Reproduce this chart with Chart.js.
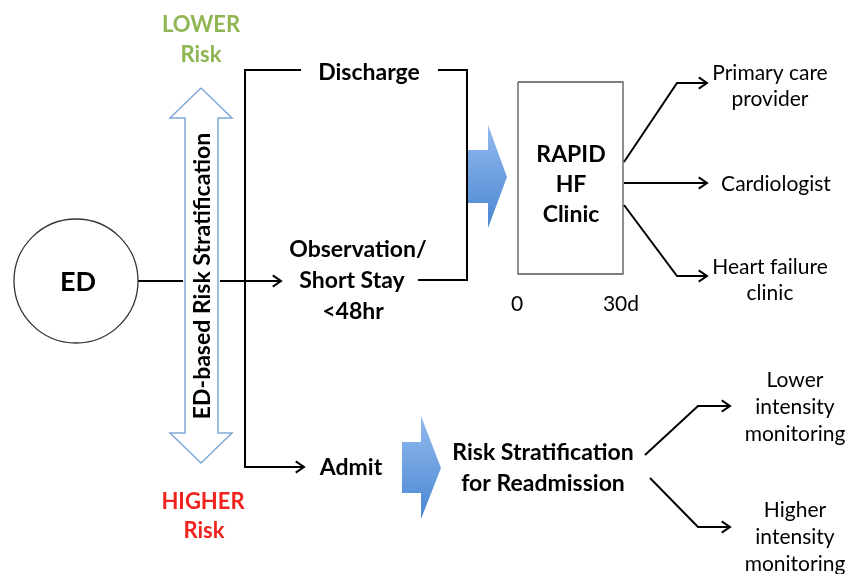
<!DOCTYPE html>
<html>
<head>
<meta charset="utf-8">
<style>html,body{margin:0;padding:0;background:#fff}</style>
<script src="https://cdn.jsdelivr.net/npm/chart.js@4.4.0/dist/chart.umd.min.js"></script>
</head>
<body>
<canvas id="flow" width="859" height="574"></canvas>
<script>
// diagram positions, in picture units (x right, y down)
var edNode = [{x: 76, y: 281, r: 62}];

var edLineIn = [[138, 281], [183, 281]];
var edLineOut = [[220, 281], [281, 281]];
var trunk = [[301, 70], [245, 70], [245, 467], [304, 467]];
var dischargeOut = [[438, 70], [467, 70], [467, 280], [418, 280]];
var clinicBox = [[518, 82], [623, 82], [623, 274], [518, 274], [518, 82]];
var toPrimary = [[624, 162], [677, 83], [707, 83]];
var toCardio = [[624, 183], [707, 183]];
var toHFclinic = [[624, 205], [677, 276], [707, 276]];
var toLower = [[645, 455], [698, 406], [730, 406]];
var toHigher = [[650, 478], [698, 527], [730, 527]];

var riskArrow = [[201, 88], [232, 118], [218, 118], [218, 433], [232, 433], [201, 463],
  [170, 433], [185, 433], [185, 118], [170, 118], [201, 88]];
var blockArrow1 = [[466, 150], [488, 150], [488, 125], [507, 177], [488, 228], [488, 203], [466, 203], [466, 150]];
var blockArrow2 = [[402, 442], [421, 442], [421, 416], [441, 468], [421, 519], [421, 493], [402, 493], [402, 442]];

var boldLabels = [
  ['ED', 78, 282, 27],
  ['Discharge', 369, 73, 23],
  ['Observation/', 358, 250, 23],
  ['Short Stay', 352, 281, 23],
  ['<48hr', 353, 312, 23],
  ['Admit', 351, 468, 23],
  ['RAPID', 571, 155, 23],
  ['HF', 571, 185, 23],
  ['Clinic', 571, 215, 23],
  ['Risk Stratification', 543, 453, 23],
  ['for Readmission', 543, 484, 23]
];
var plainLabels = [
  ['0', 517, 304],
  ['30d', 621, 304],
  ['Primary care', 770, 73],
  ['provider', 770, 99],
  ['Cardiologist', 776, 184],
  ['Heart failure', 770, 267],
  ['clinic', 770, 293],
  ['Lower', 795, 380],
  ['intensity', 795, 407],
  ['monitoring', 795, 434],
  ['Higher', 795, 510],
  ['intensity', 795, 537],
  ['monitoring', 795, 564]
];
var riskLabels = [
  ['LOWER', 201, 25, '#8fb653'],
  ['Risk', 201, 55, '#8fb653'],
  ['HIGHER', 203, 502, '#f0231e'],
  ['Risk', 204, 531, '#f0231e']
];
var sideLabel = ['ED-based Risk Stratification', 203, 276];

var FONT = 'Lato, "Open Sans", sans-serif';

function toXY(pts) {
  return pts.map(function (p) { return {x: p[0], y: p[1]}; });
}

function connector(pts, arrow) {
  return {
    data: toXY(pts), borderColor: '#000', borderWidth: 2, pointRadius: 0,
    tension: 0, fill: false, clip: false, arrow: arrow, order: 1
  };
}

function blueFill(pts) {
  var ys = pts.map(function (p) { return p[1]; });
  var top = Math.min.apply(null, ys), bot = Math.max.apply(null, ys);
  return function (ctx) {
    var c = ctx.chart;
    if (!c.chartArea) return '#5b93d9';
    var y0 = c.scales.y.getPixelForValue(top), y1 = c.scales.y.getPixelForValue(bot);
    var g = c.ctx.createLinearGradient(0, y0, 0, y1);
    g.addColorStop(0, '#93bbee');
    g.addColorStop(1, '#4a86d2');
    return g;
  };
}

function block(pts) {
  return {
    data: toXY(pts), borderColor: 'rgba(0,0,0,0)', borderWidth: 1, pointRadius: 0,
    tension: 0, fill: 'shape', backgroundColor: blueFill(pts), clip: false, order: 3
  };
}

var arrowHeads = {
  id: 'arrowHeads',
  afterDatasetsDraw: function (chart) {
    var ctx = chart.ctx;
    chart.data.datasets.forEach(function (ds, i) {
      if (!ds.arrow) return;
      var pts = chart.getDatasetMeta(i).data;
      var a = pts[pts.length - 2], b = pts[pts.length - 1];
      var ang = Math.atan2(b.y - a.y, b.x - a.x);
      ctx.save();
      ctx.strokeStyle = '#000';
      ctx.lineWidth = 2;
      ctx.lineJoin = 'miter';
      ctx.beginPath();
      ctx.moveTo(b.x - 10 * Math.cos(ang - 0.6), b.y - 10 * Math.sin(ang - 0.6));
      ctx.lineTo(b.x, b.y);
      ctx.lineTo(b.x - 10 * Math.cos(ang + 0.6), b.y - 10 * Math.sin(ang + 0.6));
      ctx.stroke();
      ctx.restore();
    });
  }
};

var textLabels = {
  id: 'textLabels',
  afterDraw: function (chart) {
    var ctx = chart.ctx, sx = chart.scales.x, sy = chart.scales.y;
    function put(t, x, y, font, color, rot) {
      ctx.save();
      ctx.font = font;
      ctx.fillStyle = color;
      ctx.textAlign = 'center';
      ctx.textBaseline = 'middle';
      ctx.translate(sx.getPixelForValue(x), sy.getPixelForValue(y));
      if (rot) ctx.rotate(rot);
      ctx.fillText(t, 0, 0);
      ctx.restore();
    }
    boldLabels.forEach(function (l) { put(l[0], l[1], l[2], 'bold ' + l[3] + 'px ' + FONT, '#000'); });
    plainLabels.forEach(function (l) { put(l[0], l[1], l[2], '21px ' + FONT, '#000'); });
    riskLabels.forEach(function (l) { put(l[0], l[1], l[2], 'bold 22px ' + FONT, l[3]); });
    put(sideLabel[0], sideLabel[1], sideLabel[2], 'bold 23px ' + FONT, '#000', -Math.PI / 2);
  }
};

var datasets = [
  {type: 'bubble', data: edNode, backgroundColor: '#fff', borderColor: '#333', borderWidth: 1.3, clip: false, order: 0},
  connector(edLineIn, false),
  connector(edLineOut, true),
  connector(trunk, true),
  connector(dischargeOut, false),
  connector(toPrimary, true),
  connector(toCardio, true),
  connector(toHFclinic, true),
  connector(toLower, true),
  connector(toHigher, true),
  {data: toXY(clinicBox), borderColor: '#555', borderWidth: 1.3, pointRadius: 0, tension: 0, fill: false, clip: false, order: 2},
  {data: toXY(riskArrow), borderColor: '#7fa8d8', borderWidth: 1.5, pointRadius: 0, tension: 0, fill: 'shape', backgroundColor: '#fff', clip: false, order: 2},
  block(blockArrow1),
  block(blockArrow2)
];

new Chart(document.getElementById('flow'), {
  type: 'line',
  data: {datasets: datasets},
  options: {
    responsive: false,
    animation: false,
    layout: {padding: 0, autoPadding: false},
    plugins: {legend: {display: false}, tooltip: {enabled: false}},
    scales: {
      x: {type: 'linear', min: 0, max: 859, display: false},
      y: {type: 'linear', min: 0, max: 574, reverse: true, display: false}
    }
  },
  plugins: [arrowHeads, textLabels]
});
</script>
</body>
</html>
